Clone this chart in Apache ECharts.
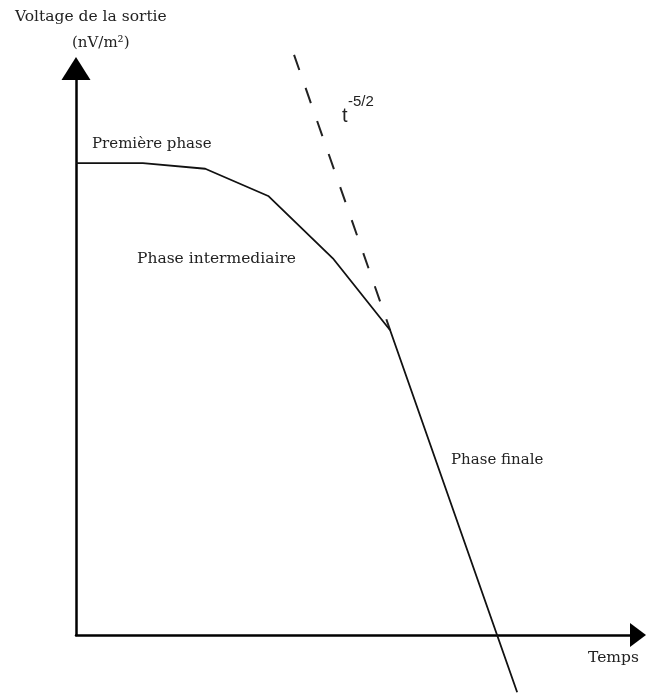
<!DOCTYPE html>
<html>
<head>
<meta charset="utf-8">
<script src="https://cdn.jsdelivr.net/npm/echarts@6/dist/echarts.min.js"></script>
<style>
  html, body { margin: 0; padding: 0; background: #fff; }
  #chart { width: 647px; height: 694px; }
</style>
</head>
<body>
<div id="chart"></div>
<script>
// Response curve: output voltage versus time (arbitrary units)
const timeValues    = [0, 1.19, 2.30, 3.42, 4.57, 5.59, 7.85];
const voltageValues = [8.33, 8.33, 8.23, 7.75, 6.65, 5.38, -1.01];

// t^-5/2 asymptote drawn as a dashed guide
const guideTime    = [3.88, 5.59];
const guideVoltage = [10.24, 5.38];

const curve = timeValues.map((t, i) => [t, voltageValues[i]]);
const guide = guideTime.map((t, i) => [t, guideVoltage[i]]);

const serif = '"DejaVu Serif", "Liberation Serif", serif';
const sans = '"Liberation Sans", Arial, sans-serif';

const chart = echarts.init(document.getElementById('chart'), null, { renderer: 'canvas' });

function label(text, x, y, size, family) {
  return {
    type: 'text',
    style: {
      text: text, x: x, y: y,
      font: size + 'px ' + (family || serif),
      fill: '#222',
      align: 'left',
      verticalAlign: 'middle'
    }
  };
}

chart.setOption({
  backgroundColor: '#fff',
  animation: false,
  grid: { left: 76, top: 68.5, width: 562, height: 566.5 },
  xAxis: {
    type: 'value', min: 0, max: 10,
    axisLine: {
      show: true,
      symbol: ['none', 'triangle'],
      symbolSize: [24, 16],
      lineStyle: { color: '#000', width: 2.5 }
    },
    axisTick: { show: false },
    axisLabel: { show: false },
    splitLine: { show: false }
  },
  yAxis: {
    type: 'value', min: 0, max: 10,
    axisLine: {
      show: true,
      symbol: ['none', 'triangle'],
      symbolSize: [29, 23],
      lineStyle: { color: '#000', width: 2.5 }
    },
    axisTick: { show: false },
    axisLabel: { show: false },
    splitLine: { show: false }
  },
  series: [
    {
      type: 'line',
      data: curve,
      showSymbol: false,
      clip: false,
      lineStyle: { color: '#111', width: 1.8 },
      z: 3
    },
    {
      type: 'line',
      data: guide,
      showSymbol: false,
      clip: false,
      lineStyle: { color: '#222', width: 2, type: [16, 19] },
      z: 2
    }
  ],
  graphic: [
    label('Voltage de la sortie', 15, 17, 15.5),
    label('(nV/m²)', 72, 43, 15),
    label('Première phase', 92, 144, 15),
    label('Phase intermediaire', 137, 259, 15.5),
    label('Phase finale', 451, 460, 15),
    label('Temps', 588, 658, 15.5),
    label('t', 342, 116, 20, sans),
    label('-5/2', 348, 102, 15, sans)
  ]
});
</script>
</body>
</html>
